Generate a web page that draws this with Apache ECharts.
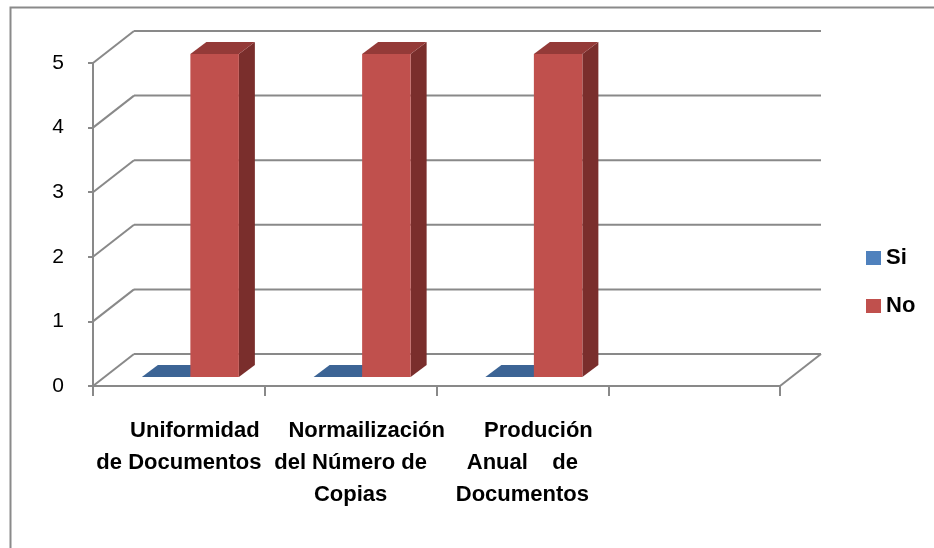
<!DOCTYPE html>
<html>
<head>
<meta charset="utf-8">
<script src="https://cdn.jsdelivr.net/npm/echarts@6/dist/echarts.min.js"></script>
<style>
html,body{margin:0;padding:0;background:#fff;}
#chart{width:934px;height:548px;}
</style>
</head>
<body>
<div id="chart"></div>
<script>
// ---- data ----
const categories = ['Uniformidad\nde Documentos', 'Normailización\ndel Número de\nCopias', 'Produción\nAnual    de\nDocumentos', ''];
const seriesNames = ['Si', 'No'];
const siValues = [0, 0, 0];
const noValues = [5, 5, 5];
const yTicks = [0, 1, 2, 3, 4, 5];

// ---- style constants ----
const WALL_DX = 41, WALL_DY = -32;      // depth of the back wall
const BAR_SHIFT_X = 11.5, BAR_SHIFT_Y = -9; // bars sit inside the depth
const BAR_DX = 16, BAR_DY = -12;        // bar depth
const BAR_W = 48.5;
const GRID_COLOR = '#898989';
const LABEL_FONT = {fontFamily: 'Liberation Sans', fontSize: 22, fontWeight: 'bold', lineHeight: 32, color: '#000'};

const chart = echarts.init(document.getElementById('chart'), null, {renderer: 'canvas'});

function makeBarRender(side, colors) {
  return function (params, api) {
    const ci = api.value(0), v = api.value(1);
    const base = api.coord([ci, 0]);
    const top = api.coord([ci, v]);
    const cx = base[0] + BAR_SHIFT_X;
    const x0 = side === 'left' ? cx - BAR_W : cx;
    const x1 = x0 + BAR_W;
    const yb = base[1] + BAR_SHIFT_Y;
    const yt = top[1] + BAR_SHIFT_Y;
    const children = [];
    if (yb - yt > 0.5) {
      children.push({type: 'polygon', shape: {points: [[x1, yt], [x1 + BAR_DX, yt + BAR_DY], [x1 + BAR_DX, yb + BAR_DY], [x1, yb]]}, style: {fill: colors.side}});
      children.push({type: 'polygon', shape: {points: [[x0, yt], [x1, yt], [x1, yb], [x0, yb]]}, style: {fill: colors.front}});
    }
    children.push({type: 'polygon', shape: {points: [[x0, yt], [x0 + BAR_DX, yt + BAR_DY], [x1 + BAR_DX, yt + BAR_DY], [x1, yt]]}, style: {fill: colors.top}});
    return {type: 'group', children: children};
  };
}

function frameRender(params, api) {
  const cs = params.coordSys;
  const v = api.value(1);
  const y = api.coord([0, v])[1];
  const left = cs.x, right = cs.x + cs.width;
  const ls = {stroke: GRID_COLOR, lineWidth: 2};
  const children = [
    {type: 'line', shape: {x1: left, y1: y, x2: left + WALL_DX, y2: y + WALL_DY}, style: ls},
    {type: 'line', shape: {x1: left + WALL_DX, y1: y + WALL_DY, x2: right + WALL_DX, y2: y + WALL_DY}, style: ls}
  ];
  if (v === yTicks[0]) {
    children.push({type: 'line', shape: {x1: right, y1: y, x2: right + WALL_DX, y2: y + WALL_DY}, style: ls});
  }
  return {type: 'group', children: children};
}

const siColors = {front: '#4F81BD', side: '#2F4F77', top: '#3C6495'};
const noColors = {front: '#C0504D', side: '#7A2E2C', top: '#943A38'};

const option = {
  animation: false,
  backgroundColor: '#fff',
  graphic: [{
    type: 'rect', left: 8, top: 5, z: 0,
    shape: {x: 0, y: 0, width: 1000, height: 700},
    style: {fill: 'none', stroke: '#8a8a8a', lineWidth: 2}
  }],
  legend: {
    orient: 'vertical',
    left: 861, top: 242,
    itemWidth: 15, itemHeight: 14, itemGap: 26,
    data: seriesNames,
    textStyle: {fontFamily: 'Liberation Sans', fontSize: 22, fontWeight: 'bold', color: '#000'},
    icon: 'rect'
  },
  grid: {left: 93, right: 154, top: 63, bottom: 162, containLabel: false},
  xAxis: {
    type: 'category',
    data: categories,
    boundaryGap: true,
    axisLine: {lineStyle: {color: GRID_COLOR, width: 2}},
    axisTick: {show: true, length: 10, interval: 0, lineStyle: {color: GRID_COLOR, width: 2}},
    axisLabel: Object.assign({
      interval: 0, margin: 29,
      formatter: function (val) {
        if (!val) return '';
        return val.split('\n').map((line, i) => (i === 0 ? '{f|' + line + '}' : '{n|' + line + '}')).join('\n');
      },
      rich: {
        f: Object.assign({padding: [0, 0, 0, 32]}, LABEL_FONT),
        n: Object.assign({}, LABEL_FONT)
      }
    }, LABEL_FONT),
    splitLine: {show: false}
  },
  yAxis: {
    type: 'value',
    min: 0, max: 5, interval: 1,
    axisLine: {show: true, lineStyle: {color: GRID_COLOR, width: 2}},
    axisTick: {show: true, length: 5, lineStyle: {color: GRID_COLOR, width: 2}},
    axisLabel: {margin: 29, fontFamily: 'Liberation Sans', fontSize: 21, color: '#000'},
    splitLine: {show: false}
  },
  series: [
    {
      name: 'frame', type: 'custom', silent: true, z: 1,
      data: yTicks.map(v => [0, v]),
      encode: {x: 0, y: 1},
      renderItem: frameRender
    },
    {
      name: seriesNames[0], type: 'custom', z: 3,
      itemStyle: {color: siColors.front},
      data: siValues.map((v, i) => [i, v]),
      encode: {x: 0, y: 1},
      renderItem: makeBarRender('left', siColors)
    },
    {
      name: seriesNames[1], type: 'custom', z: 4,
      itemStyle: {color: noColors.front},
      data: noValues.map((v, i) => [i, v]),
      encode: {x: 0, y: 1},
      renderItem: makeBarRender('right', noColors)
    }
  ]
};
chart.setOption(option);
</script>
</body>
</html>
